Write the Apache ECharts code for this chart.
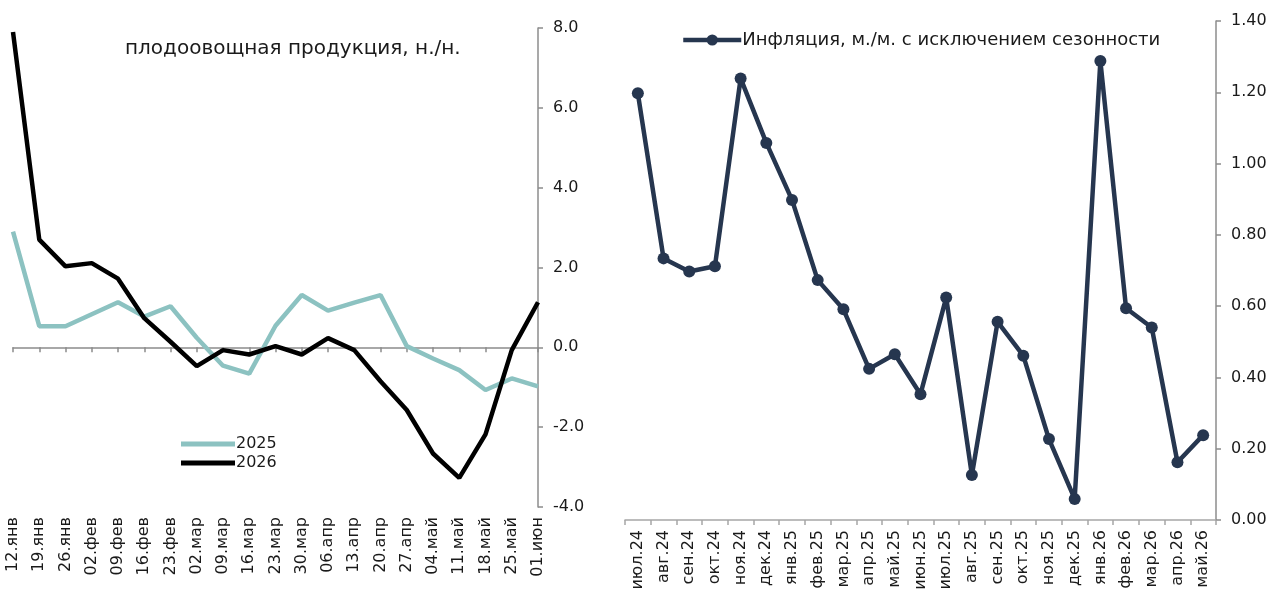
<!DOCTYPE html>
<html>
<head>
<meta charset="utf-8">
<script src="https://cdn.jsdelivr.net/npm/echarts@6/dist/echarts.min.js"></script>
<style>
html,body{margin:0;padding:0;background:#fff;}
#c{width:1273px;height:596px;}
</style>
</head>
<body>
<div id="c"></div>
<script>
// Left chart: weekly fruit & vegetable prices, w/w
const weeks = ['12.янв','19.янв','26.янв','02.фев','09.фев','16.фев','23.фев','02.мар','09.мар','16.мар','23.мар','30.мар','06.апр','13.апр','20.апр','27.апр','04.май','11.май','18.май','25.май','01.июн'];
const s2025 = [2.90,0.53,0.53,0.83,1.13,0.77,1.03,0.24,-0.46,-0.66,0.54,1.31,0.92,1.12,1.31,0.03,-0.28,-0.57,-1.07,-0.78,-0.98];
const s2026 = [7.90,2.70,2.03,2.11,1.72,0.73,0.14,-0.47,-0.07,-0.18,0.03,-0.18,0.23,-0.07,-0.85,-1.57,-2.66,-3.27,-2.18,-0.07,1.13];
const leftTicks = {min:-4, max:8, interval:2};

// Right chart: monthly inflation, m/m seasonally adjusted
const months = ['июл.24','авг.24','сен.24','окт.24','ноя.24','дек.24','янв.25','фев.25','мар.25','апр.25','май.25','июн.25','июл.25','авг.25','сен.25','окт.25','ноя.25','дек.25','янв.26','фев.26','мар.26','апр.26','май.26'];
const inflation = [1.197,0.734,0.697,0.712,1.239,1.058,0.898,0.673,0.591,0.424,0.465,0.353,0.624,0.126,0.556,0.461,0.227,0.059,1.288,0.594,0.540,0.162,0.238];
const rightTicks = {min:0, max:1.4, interval:0.2};

const leftTitle = 'плодоовощная продукция, н./н.';
const inflName = 'Инфляция, м./м. с исключением сезонности';

const FONT = 'DejaVu Sans';
const axisGray = '#8c8c8c';
const txt = '#1a1a1a';
const chart = echarts.init(document.getElementById('c'));
chart.setOption({
  animation:false,
  textStyle:{fontFamily:FONT},
  title:{text:leftTitle,left:120,top:34,textStyle:{fontFamily:FONT,fontSize:20,fontWeight:'normal',color:txt}},
  legend:[
    {data:['2025','2026'],orient:'vertical',left:176,top:431,itemWidth:54,itemHeight:5,itemGap:3,icon:'rect',
     textStyle:{fontFamily:FONT,fontSize:16,color:txt,padding:[0,0,0,-4]}},
    {data:[inflName],left:676,top:26,itemWidth:58,itemHeight:14,
     lineStyle:{width:4.5},
     textStyle:{fontFamily:FONT,fontSize:18,color:txt,padding:[0,0,0,-4]}}
  ],
  grid:[
    {left:13,right:735,top:28,bottom:89},
    {left:625,right:57,top:21,bottom:76}
  ],
  xAxis:[
    {gridIndex:0,type:'category',data:weeks,boundaryGap:false,
     axisLine:{onZero:true,lineStyle:{color:axisGray,width:1.5}},
     axisTick:{show:true,interval:0,length:5,lineStyle:{color:axisGray,width:1.5}},
     axisLabel:{show:false}},
    {gridIndex:0,type:'category',data:weeks,boundaryGap:false,position:'bottom',
     axisLine:{show:false,onZero:false},axisTick:{show:false},
     axisLabel:{show:true,interval:0,rotate:90,margin:10,fontFamily:FONT,fontSize:16,color:txt}},
    {gridIndex:1,type:'category',data:months,boundaryGap:true,
     axisLine:{lineStyle:{color:'#a6a6a6',width:1.5}},
     axisTick:{show:true,interval:0,length:5,lineStyle:{color:'#a6a6a6',width:1.5}},
     axisLabel:{interval:0,rotate:90,margin:10,fontFamily:FONT,fontSize:16,color:txt}}
  ],
  yAxis:[
    {gridIndex:0,type:'value',position:'right',min:leftTicks.min,max:leftTicks.max,interval:leftTicks.interval,
     axisLine:{show:true,lineStyle:{color:axisGray,width:1.5}},
     axisTick:{show:true,length:5,lineStyle:{color:axisGray,width:1.5}},
     splitLine:{show:false},
     axisLabel:{margin:15,fontFamily:FONT,fontSize:16,color:txt,formatter:v=>v.toFixed(1)}},
    {gridIndex:1,type:'value',position:'right',min:rightTicks.min,max:rightTicks.max,interval:rightTicks.interval,
     axisLine:{show:true,lineStyle:{color:axisGray,width:1.5}},
     axisTick:{show:true,length:5,lineStyle:{color:axisGray,width:1.5}},
     splitLine:{show:false},
     axisLabel:{margin:15,fontFamily:FONT,fontSize:16,color:txt,formatter:v=>v.toFixed(2)}}
  ],
  series:[
    {name:'2025',type:'line',xAxisIndex:0,yAxisIndex:0,data:s2025,symbol:'none',
     lineStyle:{color:'#8cc2c1',width:4.5},itemStyle:{color:'#8cc2c1'}},
    {name:'2026',type:'line',xAxisIndex:0,yAxisIndex:0,data:s2026,symbol:'none',
     lineStyle:{color:'#000000',width:4.5},itemStyle:{color:'#000000'}},
    {name:inflName,type:'line',xAxisIndex:2,yAxisIndex:1,data:inflation,symbol:'circle',symbolSize:12,
     lineStyle:{color:'#26364f',width:4.5},itemStyle:{color:'#26364f'}}
  ]
});
</script>
</body>
</html>
